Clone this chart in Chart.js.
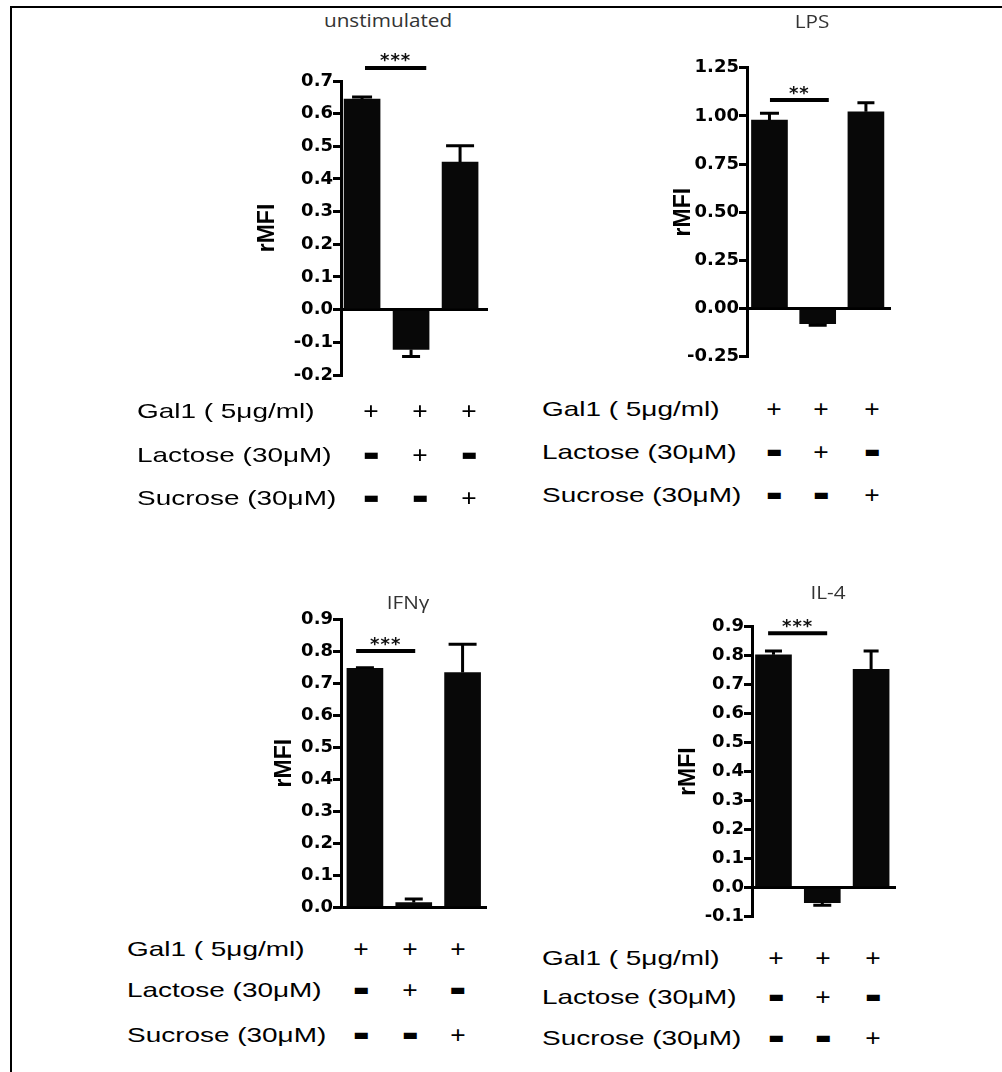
<!DOCTYPE html>
<html>
<head>
<meta charset="utf-8">
<title>Gal1 binding – rMFI</title>
<script src="https://cdn.jsdelivr.net/npm/chart.js@4/dist/chart.umd.min.js"></script>
<style>
  html, body { margin: 0; padding: 0; background: #fff; }
  #page { position: relative; width: 1002px; height: 1072px; overflow: hidden; background: #fff; }
  #frame { position: absolute; left: 10px; top: 6px; width: 1100px; height: 1200px;
           border-top: 2px solid #000; border-left: 2px solid #000; }
  canvas { position: absolute; }
  .title { position: absolute; font-family: "Open Sans", sans-serif; font-size: 18px; color: #333;
           line-height: 1; white-space: nowrap; transform: translate(-50%, -50%) scaleX(1.15); }
  .lbl { position: absolute; font-family: "Liberation Sans", Arial, sans-serif; font-size: 21px; color: #000;
         line-height: 1; white-space: nowrap; transform-origin: 0 50%; transform: translateY(-50%) scaleX(1.33); }
  .plus { position: absolute; font-family: "Liberation Sans", Arial, sans-serif; font-size: 24px; color: #000;
          line-height: 1; transform: translate(-50%, -50%) scaleX(1.1); }
  .minus { position: absolute; font-family: "DejaVu Sans", sans-serif; font-size: 17px; color: #000;
           line-height: 1; transform: translate(-50%, -50%); }
</style>
</head>
<body>
<div id="page">
  <div id="frame"></div>
</div>
<script>
// ---------- data ----------
const groupPos = [0, 1, 2];                       // Gal1 / Gal1+Lactose / Gal1+Sucrose
const panelTitles = ['unstimulated', 'LPS', 'IFN\u03B3', 'IL-4'];

const unstimMean = [0.645, -0.122, 0.452];
const unstimErr  = [0.006, 0.021, 0.050];
const unstimTicks = [-0.2, -0.1, 0.0, 0.1, 0.2, 0.3, 0.4, 0.5, 0.6, 0.7];

const lpsMean = [0.978, -0.078, 1.021];
const lpsErr  = [0.035, 0.009, 0.047];
const lpsTicks = [-0.25, 0.00, 0.25, 0.50, 0.75, 1.00, 1.25];

const ifngMean = [0.746, 0.015, 0.733];
const ifngErr  = [0.002, 0.011, 0.088];
const ifngTicks = [0.0, 0.1, 0.2, 0.3, 0.4, 0.5, 0.6, 0.7, 0.8, 0.9];

const il4Mean = [0.803, -0.052, 0.753];
const il4Err  = [0.013, 0.009, 0.063];
const il4Ticks = [-0.1, 0.0, 0.1, 0.2, 0.3, 0.4, 0.5, 0.6, 0.7, 0.8, 0.9];

const sigStars = ['***', '**', '***', '***'];     // Gal1 vs Gal1+Lactose
const sigLevel = [0.74, 1.082, 0.80, 0.877];      // y-value of the bracket

const conditionLabels = ['Gal1 ( 5\u03BCg/ml)', 'Lactose (30\u03BCM)', 'Sucrose (30\u03BCM)'];
const conditionSigns = [
  ['+', '+', '+'],
  ['-', '+', '-'],
  ['-', '-', '+']
];

// ---------- layout (pixels) ----------
const panels = [
  { mean: unstimMean, err: unstimErr, ticks: unstimTicks, dec: 1, stars: sigStars[0], sigY: sigLevel[0],
    box: { left: 200, top: 40, width: 300, height: 360 }, axisX: 341, areaRight: 488, areaTop: 81, areaBottom: 375,
    xMin: -0.43, xMax: 2.57, sigSpan: [0.06, 1.31], caps: [20, 18, 28], titlePad: 53.8,
    title: { x: 388, y: 20 }, table: { x: 137, rows: [410, 454, 497], cols: [371, 420, 469] } },
  { mean: lpsMean, err: lpsErr, ticks: lpsTicks, dec: 2, stars: sigStars[1], sigY: sigLevel[1],
    box: { left: 620, top: 30, width: 300, height: 360 }, axisX: 747, areaRight: 891, areaTop: 67.7, areaBottom: 356.7,
    xMin: -0.466, xMax: 2.52, sigSpan: [0.01, 1.23], caps: [19, 18, 17], titlePad: 49.8,
    title: { x: 812, y: 21 }, table: { x: 542, rows: [407.5, 451, 494], cols: [774, 821, 872] } },
  { mean: ifngMean, err: ifngErr, ticks: ifngTicks, dec: 1, stars: sigStars[2], sigY: sigLevel[2],
    box: { left: 200, top: 580, width: 300, height: 350 }, axisX: 341, areaRight: 487, areaTop: 619, areaBottom: 907.3,
    xMin: -0.49, xMax: 2.50, sigSpan: [-0.18, 1.03], caps: [18, 18, 28], titlePad: 71.3,
    title: { x: 408, y: 602 }, table: { x: 127, rows: [948, 989, 1033.5], cols: [361, 410, 457.5] } },
  { mean: il4Mean, err: il4Err, ticks: il4Ticks, dec: 1, stars: sigStars[3], sigY: sigLevel[3],
    box: { left: 620, top: 590, width: 300, height: 350 }, axisX: 752, areaRight: 896, areaTop: 626.7, areaBottom: 916.5,
    xMin: -0.44, xMax: 2.51, sigSpan: [-0.11, 1.10], caps: [17, 18, 15], titlePad: 54.8,
    title: { x: 828, y: 592 }, table: { x: 542, rows: [957, 996, 1037], cols: [776, 823, 873] } }
];

// one-sided error bars, drawn away from zero
const errorBars = {
  id: 'errorBars',
  afterDatasetsDraw(chart, args, opts) {
    const { ctx, scales: { x, y } } = chart;
    ctx.save();
    ctx.strokeStyle = '#000';
    ctx.lineWidth = 3;
    ctx.lineCap = 'butt';
    opts.mean.forEach((v, i) => {
      const dir = v >= 0 ? 1 : -1;
      const xp = x.getPixelForValue(groupPos[i]);
      const y0 = y.getPixelForValue(v);
      const y1 = y.getPixelForValue(v + dir * opts.err[i]);
      const hw = opts.caps[i] / 2;
      ctx.beginPath();
      ctx.moveTo(xp, y0);
      ctx.lineTo(xp, y1);
      ctx.moveTo(xp - hw, y1);
      ctx.lineTo(xp + hw, y1);
      ctx.stroke();
    });
    ctx.restore();
  }
};

// significance bracket with asterisks
const sigMark = {
  id: 'sigMark',
  afterDraw(chart, args, opts) {
    const { ctx, scales: { x, y } } = chart;
    const x0 = x.getPixelForValue(opts.span[0]);
    const x1 = x.getPixelForValue(opts.span[1]);
    const yl = y.getPixelForValue(opts.level);
    ctx.save();
    ctx.strokeStyle = '#000';
    ctx.lineWidth = 4;
    ctx.beginPath();
    ctx.moveTo(x0, yl);
    ctx.lineTo(x1, yl);
    ctx.stroke();
    ctx.fillStyle = '#111';
    ctx.font = 'bold 18px "DejaVu Sans"';
    if ('letterSpacing' in ctx) ctx.letterSpacing = '1px';
    ctx.textAlign = 'center';
    ctx.textBaseline = 'alphabetic';
    const m = ctx.measureText(opts.stars);
    const cy = yl - 10;
    const base = cy + (m.actualBoundingBoxAscent - m.actualBoundingBoxDescent) / 2;
    ctx.fillText(opts.stars, (x0 + x1) / 2, base);
    ctx.restore();
  }
};

const page = document.getElementById('page');

function addDiv(cls, text, left, top) {
  const d = document.createElement('div');
  d.className = cls;
  d.textContent = text;
  d.style.left = left + 'px';
  d.style.top = top + 'px';
  page.appendChild(d);
  return d;
}

panels.forEach((p, k) => {
  const cv = document.createElement('canvas');
  cv.width = p.box.width;
  cv.height = p.box.height;
  cv.style.left = p.box.left + 'px';
  cv.style.top = p.box.top + 'px';
  page.appendChild(cv);

  const yMin = p.ticks[0], yMax = p.ticks[p.ticks.length - 1];

  new Chart(cv, {
    type: 'bar',
    data: {
      datasets: [{
        data: p.mean.map((v, i) => ({ x: groupPos[i], y: v })),
        backgroundColor: '#080808',
        borderWidth: 0,
        barThickness: 36
      }]
    },
    options: {
      responsive: false,
      animation: false,
      devicePixelRatio: 1,
      layout: {
        padding: {
          left: 0,
          right: p.box.left + p.box.width - p.areaRight,
          top: p.areaTop - p.box.top,
          bottom: p.box.top + p.box.height - p.areaBottom
        }
      },
      plugins: {
        legend: { display: false },
        tooltip: { enabled: false },
        errorBars: { mean: p.mean, err: p.err, caps: p.caps },
        sigMark: { span: p.sigSpan, level: p.sigY, stars: p.stars }
      },
      scales: {
        x: { type: 'linear', min: p.xMin, max: p.xMax, offset: false, display: false },
        y: {
          min: yMin,
          max: yMax,
          afterBuildTicks: s => { s.ticks = p.ticks.map(v => ({ value: v })); },
          afterFit: s => { s.width = p.axisX - p.box.left; },
          border: { display: true, color: '#000', width: 3 },
          grid: {
            color: c => (c.tick && Math.abs(c.tick.value) < 1e-9) ? '#000' : 'rgba(0,0,0,0)',
            lineWidth: 3,
            tickColor: '#000',
            tickWidth: 3,
            tickLength: 8,
            drawTicks: true
          },
          ticks: {
            color: '#000',
            padding: 0,
            font: { family: 'DejaVu Sans', weight: 'bold', size: 18 },
            callback: v => Number(v).toFixed(p.dec)
          },
          title: {
            display: true,
            text: 'rMFI',
            color: '#000',
            font: { family: 'Liberation Sans', weight: 'bold', size: 23 },
            padding: { top: p.titlePad, bottom: 0 }
          }
        }
      }
    },
    plugins: [errorBars, sigMark]
  });

  addDiv('title', panelTitles[k], p.title.x, p.title.y);

  conditionLabels.forEach((lab, r) => {
    addDiv('lbl', lab, p.table.x, p.table.rows[r]);
    conditionSigns[r].forEach((s, c) => {
      if (s === '+') addDiv('plus', '+', p.table.cols[c], p.table.rows[r] + 1);
      else addDiv('minus', '\u25AC', p.table.cols[c], p.table.rows[r]);
    });
  });
});
</script>
</body>
</html>
